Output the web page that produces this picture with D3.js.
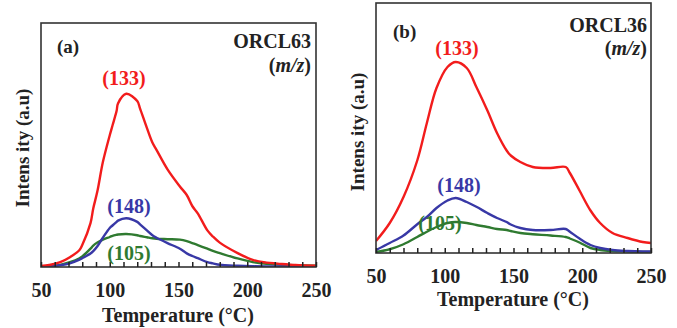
<!DOCTYPE html>
<html>
<head>
<meta charset="utf-8">
<script src="https://cdn.jsdelivr.net/npm/d3@7"></script>
<style>
  body { margin: 0; background: #fff; }
  svg text { font-family: "Liberation Serif", "DejaVu Serif", serif; font-weight: bold; fill: #222; }
</style>
</head>
<body>
<svg id="chart" width="677" height="328"></svg>
<script>
// temperatures (°C) and intensities (a.u.)
const tempA = [41, 50, 56, 64, 71, 78, 80, 86, 88, 91, 95, 100, 102, 105, 106, 112, 120, 122, 127, 131, 134, 142, 151, 156, 160, 164, 171, 175, 180, 193, 204, 214, 222, 235, 250];
const red63 = [0.2, 0.4, 0.8, 2, 4, 7, 9, 18, 24, 31, 43, 54, 58, 64, 67, 71, 68, 65, 57, 51, 48, 40, 33, 29.5, 25, 22, 15, 12.5, 10, 5.7, 2.9, 1.8, 1.4, 0.8, 0.5];
const blue63 = [0, 0, 0.2, 0.7, 1.5, 3, 3.6, 5.5, 6.5, 8.5, 12, 16, 17, 18.5, 19, 20, 18.5, 17.5, 15, 13, 12, 9.8, 7.5, 5.6, 4.5, 3.6, 2, 1.5, 0.9, 0.5, 0.3, 0.2, 0.2, 0.2, 0.2];
const green63 = [0, 0.1, 0.4, 0.9, 2, 3.6, 4.3, 7.5, 8.8, 10, 11.2, 12.3, 12.8, 13.2, 13.3, 13.5, 13, 12.7, 12.2, 11.8, 11.6, 11.4, 11.2, 10.6, 9.8, 9, 7.5, 6.6, 5.7, 3.5, 2, 1.3, 1, 0.7, 0.5];

const tempB = [50, 60, 70, 80, 87, 94, 102, 108, 116, 123, 131, 138, 145, 148, 155, 164, 177, 188, 191, 198, 206, 213, 222, 233, 244, 250];
const red36 = [4.8, 12, 22.4, 37, 52, 66, 74.4, 76.4, 74, 66.4, 57, 48, 41, 39, 36.4, 34.4, 34, 34.4, 32, 25, 17, 12, 8, 6, 4.4, 4];
const blue36 = [1.2, 4, 7, 11.5, 14.4, 18, 21, 22, 20.4, 18.5, 16, 14, 12.4, 11.4, 10, 9.2, 9.2, 9.6, 8.5, 5.8, 3.2, 2, 1.2, 0.8, 0.6, 0.6];
const green36 = [0.4, 1.5, 3.5, 6.4, 8.5, 10.4, 12, 12.4, 12, 11.2, 10.4, 9.6, 9.2, 8.8, 8, 7.5, 7, 6.4, 5.8, 4.2, 2, 1.2, 0.8, 0.6, 0.4, 0.4];

const xTicks = [50, 100, 150, 200, 250];
const minorTicks = d3.range(50, 251, 10);

const colors = { red: "#f21c1c", blue: "#3838a6", green: "#2f7a30" };

const panels = [
  {
    box: { left: 41, top: 23, right: 316, bottom: 267 },
    temp: tempA,
    series: [
      { values: green63, color: colors.green },
      { values: blue63, color: colors.blue },
      { values: red63, color: colors.red }
    ],
    letter: "(a)", letterPos: [57, 53],
    name: "ORCL63", namePos: [311, 48], mzY: 72,
    labels: [
      { text: "(133)", x: 124, y: 85, color: colors.red },
      { text: "(148)", x: 129, y: 213, color: colors.blue },
      { text: "(105)", x: 129, y: 260, color: colors.green }
    ],
    yTitle: [22, 148], xTitle: [178, 322]
  },
  {
    box: { left: 376, top: 3, right: 651, bottom: 253 },
    temp: tempB,
    series: [
      { values: green36, color: colors.green },
      { values: blue36, color: colors.blue },
      { values: red36, color: colors.red }
    ],
    letter: "(b)", letterPos: [393, 38],
    name: "ORCL36", namePos: [647, 32], mzY: 55,
    labels: [
      { text: "(133)", x: 457, y: 55, color: colors.red },
      { text: "(148)", x: 459, y: 192, color: colors.blue },
      { text: "(105)", x: 440, y: 230, color: colors.green }
    ],
    yTitle: [357, 132], xTitle: [513, 306]
  }
];

const svg = d3.select("#chart");

panels.forEach(p => {
  const b = p.box;
  const x = d3.scaleLinear().domain([50, 250]).range([b.left, b.right]);
  const y = d3.scaleLinear().domain([0, 100]).range([b.bottom, b.top]);

  const g = svg.append("g");

  const clipId = "clip" + b.left;
  g.append("clipPath").attr("id", clipId)
    .append("rect")
    .attr("x", b.left).attr("y", b.top)
    .attr("width", b.right - b.left).attr("height", b.bottom - b.top);

  const line = d3.line()
    .x((d, i) => x(p.temp[i]))
    .y(d => y(d))
    .curve(d3.curveCatmullRom.alpha(0.5));

  g.append("g").attr("clip-path", `url(#${clipId})`)
    .selectAll("path")
    .data(p.series)
    .join("path")
    .attr("d", d => line(d.values))
    .attr("fill", "none")
    .attr("stroke", d => d.color)
    .attr("stroke-width", 2.4)
    .attr("stroke-linejoin", "round");

  // frame
  g.append("rect")
    .attr("x", b.left).attr("y", b.top)
    .attr("width", b.right - b.left).attr("height", b.bottom - b.top)
    .attr("fill", "none").attr("stroke", "#333").attr("stroke-width", 1.6);

  // inward minor ticks
  g.append("g")
    .attr("transform", `translate(0,${b.bottom})`)
    .call(d3.axisBottom(x).tickValues(minorTicks).tickSize(-5).tickFormat(""))
    .call(a => a.select(".domain").remove())
    .call(a => a.selectAll("line").attr("stroke", "#222").attr("stroke-width", 1.5));

  // labels
  g.append("g")
    .attr("transform", `translate(0,${b.bottom})`)
    .call(d3.axisBottom(x).tickValues(xTicks).tickSize(0).tickPadding(16).tickFormat(d3.format("d")))
    .call(a => a.select(".domain").remove())
    .call(a => a.selectAll("text")
      .attr("font-size", 20)
      .attr("font-family", "Liberation Serif, serif")
      .attr("font-weight", "bold")
      .attr("fill", "#222"));

  g.append("text")
    .attr("x", p.xTitle[0]).attr("y", p.xTitle[1])
    .attr("text-anchor", "middle").attr("font-size", 20)
    .text("Temperature (°C)");

  g.append("text")
    .attr("transform", `translate(${p.yTitle[0]},${p.yTitle[1]}) rotate(-90)`)
    .attr("text-anchor", "middle").attr("dy", "0.35em").attr("font-size", 19)
    .text("Intens ity (a.u)");

  g.append("text")
    .attr("x", p.letterPos[0]).attr("y", p.letterPos[1])
    .attr("font-size", 19).text(p.letter);

  g.append("text")
    .attr("x", p.namePos[0]).attr("y", p.namePos[1])
    .attr("text-anchor", "end").attr("font-size", 20).text(p.name);

  const mz = g.append("text")
    .attr("x", p.namePos[0]).attr("y", p.mzY)
    .attr("text-anchor", "end").attr("font-size", 20);
  mz.append("tspan").text("(");
  mz.append("tspan").attr("font-style", "italic").text("m/z");
  mz.append("tspan").text(")");

  g.selectAll(".peak")
    .data(p.labels)
    .join("text")
    .attr("class", "peak")
    .attr("x", d => d.x).attr("y", d => d.y)
    .attr("text-anchor", "middle").attr("font-size", 20)
    .style("fill", d => d.color)
    .text(d => d.text);
});
</script>
</body>
</html>
